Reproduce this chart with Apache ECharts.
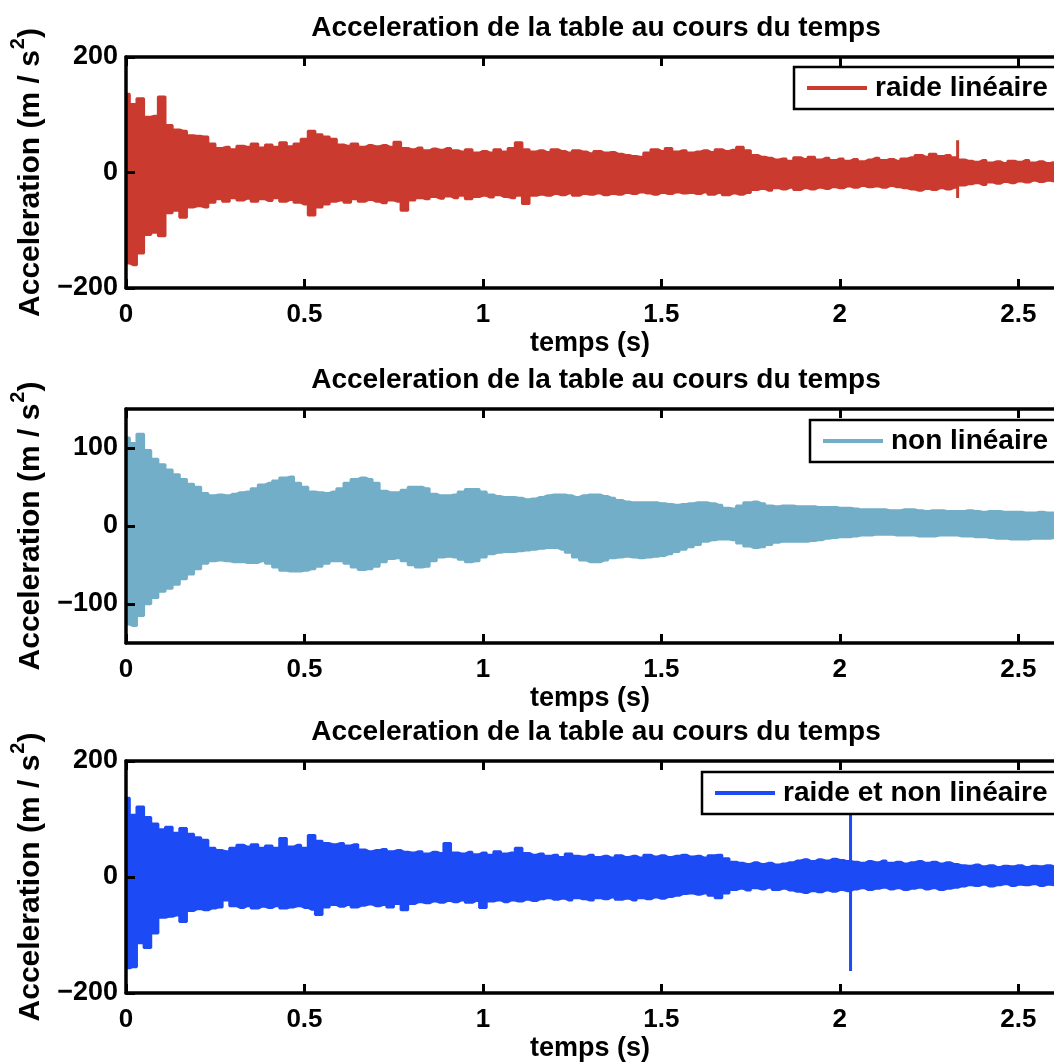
<!DOCTYPE html>
<html><head><meta charset="utf-8">
<script src="https://cdn.jsdelivr.net/npm/echarts@6/dist/echarts.min.js"></script>
<style>html,body{margin:0;padding:0;background:#fff}#c{width:1054px;height:1064px}</style>
</head><body><div id="c"></div>
<script>
// ---------- data ----------
const T_STEP = 0.02;              // envelope sampling step (s), samples at 0, 0.02, ... 2.60
const xTicks = [0, 0.5, 1, 1.5, 2, 2.5];
const yTicks1 = [-200, 0, 200];
const yTicks2 = [-100, 0, 100];
const yTicks3 = [-200, 0, 200];
const seriesNames = ['raide linéaire', 'non linéaire', 'raide et non linéaire'];

// panel 1 : raide linéaire — upper / lower envelope of the signal
const upper1 = [136,118,128,96,98,131,82,74,72,64,
  63,62,50,42,44,40,46,44,50,43,
  48,44,52,45,50,58,72,66,62,58,
  48,46,50,44,47,45,47,44,53,42,
  40,43,38,41,39,42,38,36,40,34,
  37,34,40,36,42,52,40,36,38,35,
  40,37,34,38,36,33,37,34,35,32,
  30,28,27,34,40,37,42,36,38,34,
  36,38,35,40,37,39,44,38,30,27,
  25,22,24,20,26,23,27,22,25,21,
  24,20,23,19,22,25,21,23,20,24,
  26,30,27,32,28,30,26,22,20,18,
  21,17,19,16,20,18,21,17,19,16,
  18];
const lower1 = [-157,-160,-140,-108,-104,-110,-70,-66,-78,-60,
  -58,-60,-52,-46,-50,-44,-48,-45,-50,-46,
  -49,-44,-50,-47,-52,-55,-74,-60,-55,-50,
  -48,-52,-46,-50,-47,-50,-53,-48,-50,-66,
  -48,-44,-46,-42,-45,-41,-44,-40,-46,-42,
  -40,-43,-39,-42,-44,-40,-54,-40,-38,-40,
  -37,-39,-36,-40,-37,-38,-36,-39,-37,-38,
  -35,-37,-34,-36,-38,-35,-37,-34,-36,-35,
  -37,-34,-38,-35,-39,-36,-38,-35,-30,-28,
  -31,-27,-29,-26,-30,-27,-29,-26,-28,-25,
  -27,-24,-26,-23,-25,-24,-26,-23,-25,-27,
  -29,-31,-28,-30,-27,-29,-26,-22,-20,-18,
  -21,-17,-19,-16,-18,-15,-17,-14,-16,-14,
  -15];
const spike1 = [2.33, 56, -44];   // [time, top, bottom]

// panel 2 : non linéaire
const upper2 = [113,106,118,97,86,79,72,66,60,54,
  50,42,39,40,39,41,43,44,48,53,
  55,58,62,63,55,50,44,43,42,44,
  48,55,60,62,60,55,45,43,43,46,
  50,50,48,41,39,39,40,44,47,47,
  44,40,38,37,37,36,34,35,37,39,
  40,40,39,37,39,40,40,38,36,33,
  31,30,30,30,30,29,28,27,28,29,
  30,30,29,27,23,22,26,30,31,29,
  26,25,26,26,25,25,25,24,24,24,
  23,23,22,21,21,21,21,20,20,21,
  21,20,19,20,20,19,19,19,20,19,
  18,19,19,18,18,18,17,17,18,17,
  17];
const lower2 = [-126,-128,-115,-100,-92,-84,-80,-75,-68,-62,
  -55,-48,-45,-44,-45,-46,-46,-47,-47,-45,
  -48,-53,-57,-58,-58,-57,-55,-52,-48,-45,
  -45,-48,-53,-56,-55,-52,-46,-42,-41,-45,
  -50,-53,-52,-45,-40,-39,-40,-43,-46,-45,
  -40,-36,-34,-33,-33,-32,-31,-30,-29,-28,
  -28,-30,-34,-40,-44,-46,-46,-44,-41,-40,
  -39,-40,-41,-40,-39,-38,-36,-33,-30,-27,
  -24,-20,-18,-17,-17,-18,-22,-26,-28,-27,
  -24,-21,-20,-20,-20,-20,-19,-18,-16,-15,
  -14,-14,-13,-12,-12,-11,-11,-11,-12,-12,
  -12,-13,-13,-13,-12,-12,-12,-13,-13,-14,
  -14,-15,-16,-16,-17,-17,-17,-16,-16,-16,
  -15];

// panel 3 : raide et non linéaire
const upper3 = [136,107,121,103,92,82,86,76,84,74,
  68,64,50,46,44,50,55,52,56,50,
  54,50,67,52,55,50,72,62,58,56,
  58,54,56,47,44,46,48,44,46,43,
  42,44,40,43,41,58,42,40,43,39,
  42,38,44,40,42,50,41,38,40,36,
  38,34,40,36,35,38,34,36,33,37,
  34,36,33,38,35,37,34,36,38,35,
  36,33,37,38,32,26,24,22,25,22,
  24,21,23,25,28,30,27,30,28,31,
  29,27,26,24,27,25,28,24,26,23,
  25,27,24,26,23,25,22,20,19,21,
  18,20,17,19,18,20,17,19,18,20,
  18];
const lower3 = [-157,-155,-114,-122,-97,-70,-68,-66,-77,-58,
  -55,-57,-54,-52,-40,-50,-53,-50,-54,-51,
  -53,-50,-54,-52,-50,-53,-56,-65,-52,-48,
  -51,-48,-52,-49,-47,-50,-48,-52,-46,-57,
  -46,-43,-45,-42,-44,-41,-43,-40,-44,-41,
  -53,-42,-40,-43,-40,-42,-39,-41,-38,-36,
  -39,-37,-40,-36,-38,-40,-36,-38,-35,-39,
  -37,-40,-36,-38,-35,-37,-34,-32,-29,-28,
  -30,-28,-32,-36,-28,-22,-20,-23,-19,-21,
  -18,-22,-20,-23,-25,-27,-24,-26,-23,-25,
  -22,-24,-21,-19,-22,-20,-18,-21,-19,-22,
  -20,-18,-21,-19,-22,-20,-18,-16,-14,-15,
  -13,-16,-14,-12,-15,-13,-14,-12,-15,-13,
  -14];
const spike3 = [2.03, 150, -162];

// ---------- styling ----------
const FONT = '"Liberation Sans", Arial, Helvetica, sans-serif';
const COLORS = ['#CB3A2E', '#72AEC8', '#1C4AF5'];
const TITLE = 'Acceleration de la table au cours du temps';
const GRIDS = [{top: 57, height: 231}, {top: 409, height: 234}, {top: 761, height: 232}];
const YRANGE = [[-200, 200], [-150, 150], [-200, 200]];
const YTICKS = [yTicks1, yTicks2, yTicks3];
const TITLE_TOP = [12, 364, 716];
const LEGEND_POS = [{left: 794, top: 67}, {left: 810, top: 420}, {left: 702, top: 772}];
const PANELS = [[upper1, lower1, spike1], [upper2, lower2, null], [upper3, lower3, spike3]];

const tAt = i => +(i * T_STEP).toFixed(2);
const txt = (size) => ({fontSize: size, fontWeight: 'bold', color: '#000', fontFamily: FONT});
const axisLine = {show: true, onZero: false, lineStyle: {color: '#000', width: 3.5}};

const option = {
  animation: false,
  backgroundColor: '#fff',
  title: [], legend: [], grid: [], xAxis: [], yAxis: [], series: []
};

PANELS.forEach(([up, lo, spike], k) => {
  const color = COLORS[k];
  option.grid.push({left: 126, right: -12, top: GRIDS[k].top, height: GRIDS[k].height, containLabel: false});
  option.title.push({text: TITLE, left: 596, top: TITLE_TOP[k], textAlign: 'center', padding: 0,
    textStyle: Object.assign(txt(28), {lineHeight: 32})});
  option.xAxis.push({
    type: 'value', gridIndex: k, min: 0, max: 2.6, position: 'bottom', z: 5,
    axisLine: axisLine,
    axisTick: {show: true, inside: true, length: 9, lineStyle: {color: '#000', width: 3}, customValues: xTicks},
    axisLabel: {show: true, customValues: xTicks, margin: 14, ...txt(26)},
    splitLine: {show: false},
    name: 'temps (s)', nameLocation: 'middle', nameGap: 42, nameTextStyle: txt(27)
  });
  option.xAxis.push({
    type: 'value', gridIndex: k, min: 0, max: 2.6, position: 'top', z: 5,
    axisLine: axisLine,
    axisTick: {show: true, inside: true, length: 9, lineStyle: {color: '#000', width: 3}, customValues: xTicks},
    axisLabel: {show: false}, splitLine: {show: false}
  });
  option.yAxis.push({
    type: 'value', gridIndex: k, min: YRANGE[k][0], max: YRANGE[k][1], position: 'left', z: 5,
    axisLine: axisLine,
    axisTick: {show: true, inside: true, length: 9, lineStyle: {color: '#000', width: 3}, customValues: YTICKS[k]},
    axisLabel: {show: true, customValues: YTICKS[k], margin: 8, ...txt(27),
      formatter: v => String(v).replace('-', '\u2212')},
    splitLine: {show: false},
    name: '{b|Acceleration (m / s}{sup|2}{b|)}', nameLocation: 'middle', nameGap: 80,
    nameTextStyle: {
      color: '#000',
      rich: {
        b: {fontSize: 30, fontWeight: 'bold', fontFamily: FONT, color: '#000', lineHeight: 31, verticalAlign: 'bottom'},
        sup: {fontSize: 20, fontWeight: 'bold', fontFamily: FONT, color: '#000', lineHeight: 20, verticalAlign: 'bottom', padding: [0, 0, 18, 1]}
      }
    }
  });
  const name = seriesNames[k];
  const common = {type: 'line', xAxisIndex: 2 * k, yAxisIndex: k, symbol: 'none', silent: true,
    step: 'middle', color: color, z: 2};
  // upper envelope: filled from the bottom of the axis up to the envelope
  option.series.push(Object.assign({}, common, {
    name: name,
    data: up.map((v, i) => [tAt(i), v]),
    lineStyle: {color: color, width: 2.5},
    areaStyle: {color: color, opacity: 1, origin: 'start'}
  }));
  // lower envelope: blanks out everything below it, leaving the band
  option.series.push(Object.assign({}, common, {
    name: name + ' (enveloppe basse)',
    data: lo.map((v, i) => [tAt(i), v]),
    lineStyle: {color: color, width: 2.5},
    areaStyle: {color: '#ffffff', opacity: 1, origin: 'start'}
  }));
  if (spike) {
    option.series.push({type: 'line', name: name + ' (pic)', xAxisIndex: 2 * k, yAxisIndex: k, symbol: 'none',
      silent: true, color: color, z: 3, lineStyle: {color: color, width: 3},
      data: [[spike[0], spike[1]], [spike[0], spike[2]]]});
  }
  option.legend.push({
    data: [{name: name, icon: 'rect', itemStyle: {color: color}}],
    left: LEGEND_POS[k].left, top: LEGEND_POS[k].top, orient: 'horizontal',
    padding: [6, 40, 6, 13], itemWidth: 60, itemHeight: 4,
    backgroundColor: '#fff', borderColor: '#000', borderWidth: 2.5, borderRadius: 0,
    selectedMode: false, z: 10,
    textStyle: Object.assign(txt(28), {lineHeight: 30, padding: [0, 0, 0, 3]})
  });
});

const chart = echarts.init(document.getElementById('c'), null, {renderer: 'canvas'});
chart.setOption(option);
</script>
</body></html>
